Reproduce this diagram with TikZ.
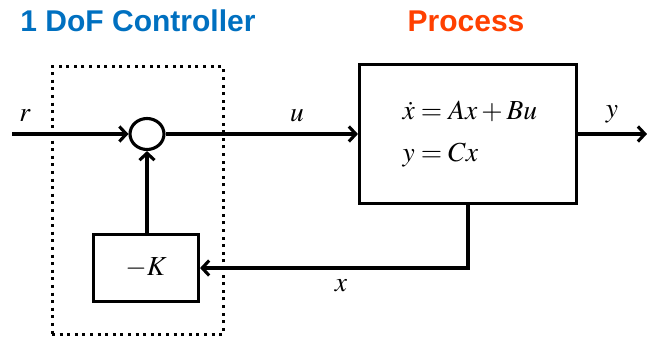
\documentclass[tikz,border=0pt]{standalone}
\usepackage{mathptmx}
\usepackage{fontspec}
\setsansfont{Liberation Sans}
\usepackage{xcolor}
\usetikzlibrary{arrows.meta,shapes.geometric}
\definecolor{ctrlblue}{HTML}{0070C0}
\definecolor{procred}{HTML}{FF4000}

\begin{document}
\begin{tikzpicture}[x=1pt, y=-1pt, >={Straight Barb[length=7pt,width=15pt]}, line width=3.1pt,
    lbl/.style={font=\fontsize{27.5}{33}\selectfont},
    ttl/.style={font=\fontsize{30}{36}\selectfont\sffamily\bfseries}]
  \useasboundingbox (0,0) rectangle (647,337);
  \node[draw, line width=3pt, dash pattern=on 3pt off 4.6pt, minimum width=171pt, minimum height=268pt] (ctrl) at (137.5,200.5) {};
  \node[draw, minimum width=217pt, minimum height=139pt] (plant) at (468,134) {};
  \node[draw, ellipse, minimum width=34pt, minimum height=31pt, inner sep=0pt] (sum) at (147,134) {};
  \node[draw, minimum width=105pt, minimum height=67pt, lbl] (gain) at (146,268) {$-K$};
  \coordinate (rin) at (12,134);
  \coordinate (yout) at (647,134);
  \draw[->] (rin) -- (sum);
  \draw[->] (sum) -- (plant);
  \draw[->] (plant) -- (yout);
  \draw[->] (gain.north -| sum) -- (sum);
  \draw[->] (plant.south) |- (gain);
  \node[lbl] (rlbl) at (25,116) {$r$};
  \node[lbl] (ulbl) at (297,116) {$u$};
  \node[lbl] (ylbl) at (612,114) {$y$};
  \node[lbl] (xlbl) at (341,286) {$x$};
  \node[lbl, anchor=base west, inner sep=0pt] (eqstate) at (401,119) {$\dot x = Ax + Bu$};
  \node[lbl, anchor=base west, inner sep=0pt] (eqout) at (401,161) {$y = Cx$};
  \node[ttl, text=ctrlblue, anchor=base] (ctrltitle) at (138,32) {1 DoF Controller};
  \node[ttl, text=procred, anchor=base] (proctitle) at (466,32) {Process};
\end{tikzpicture}
\end{document}
